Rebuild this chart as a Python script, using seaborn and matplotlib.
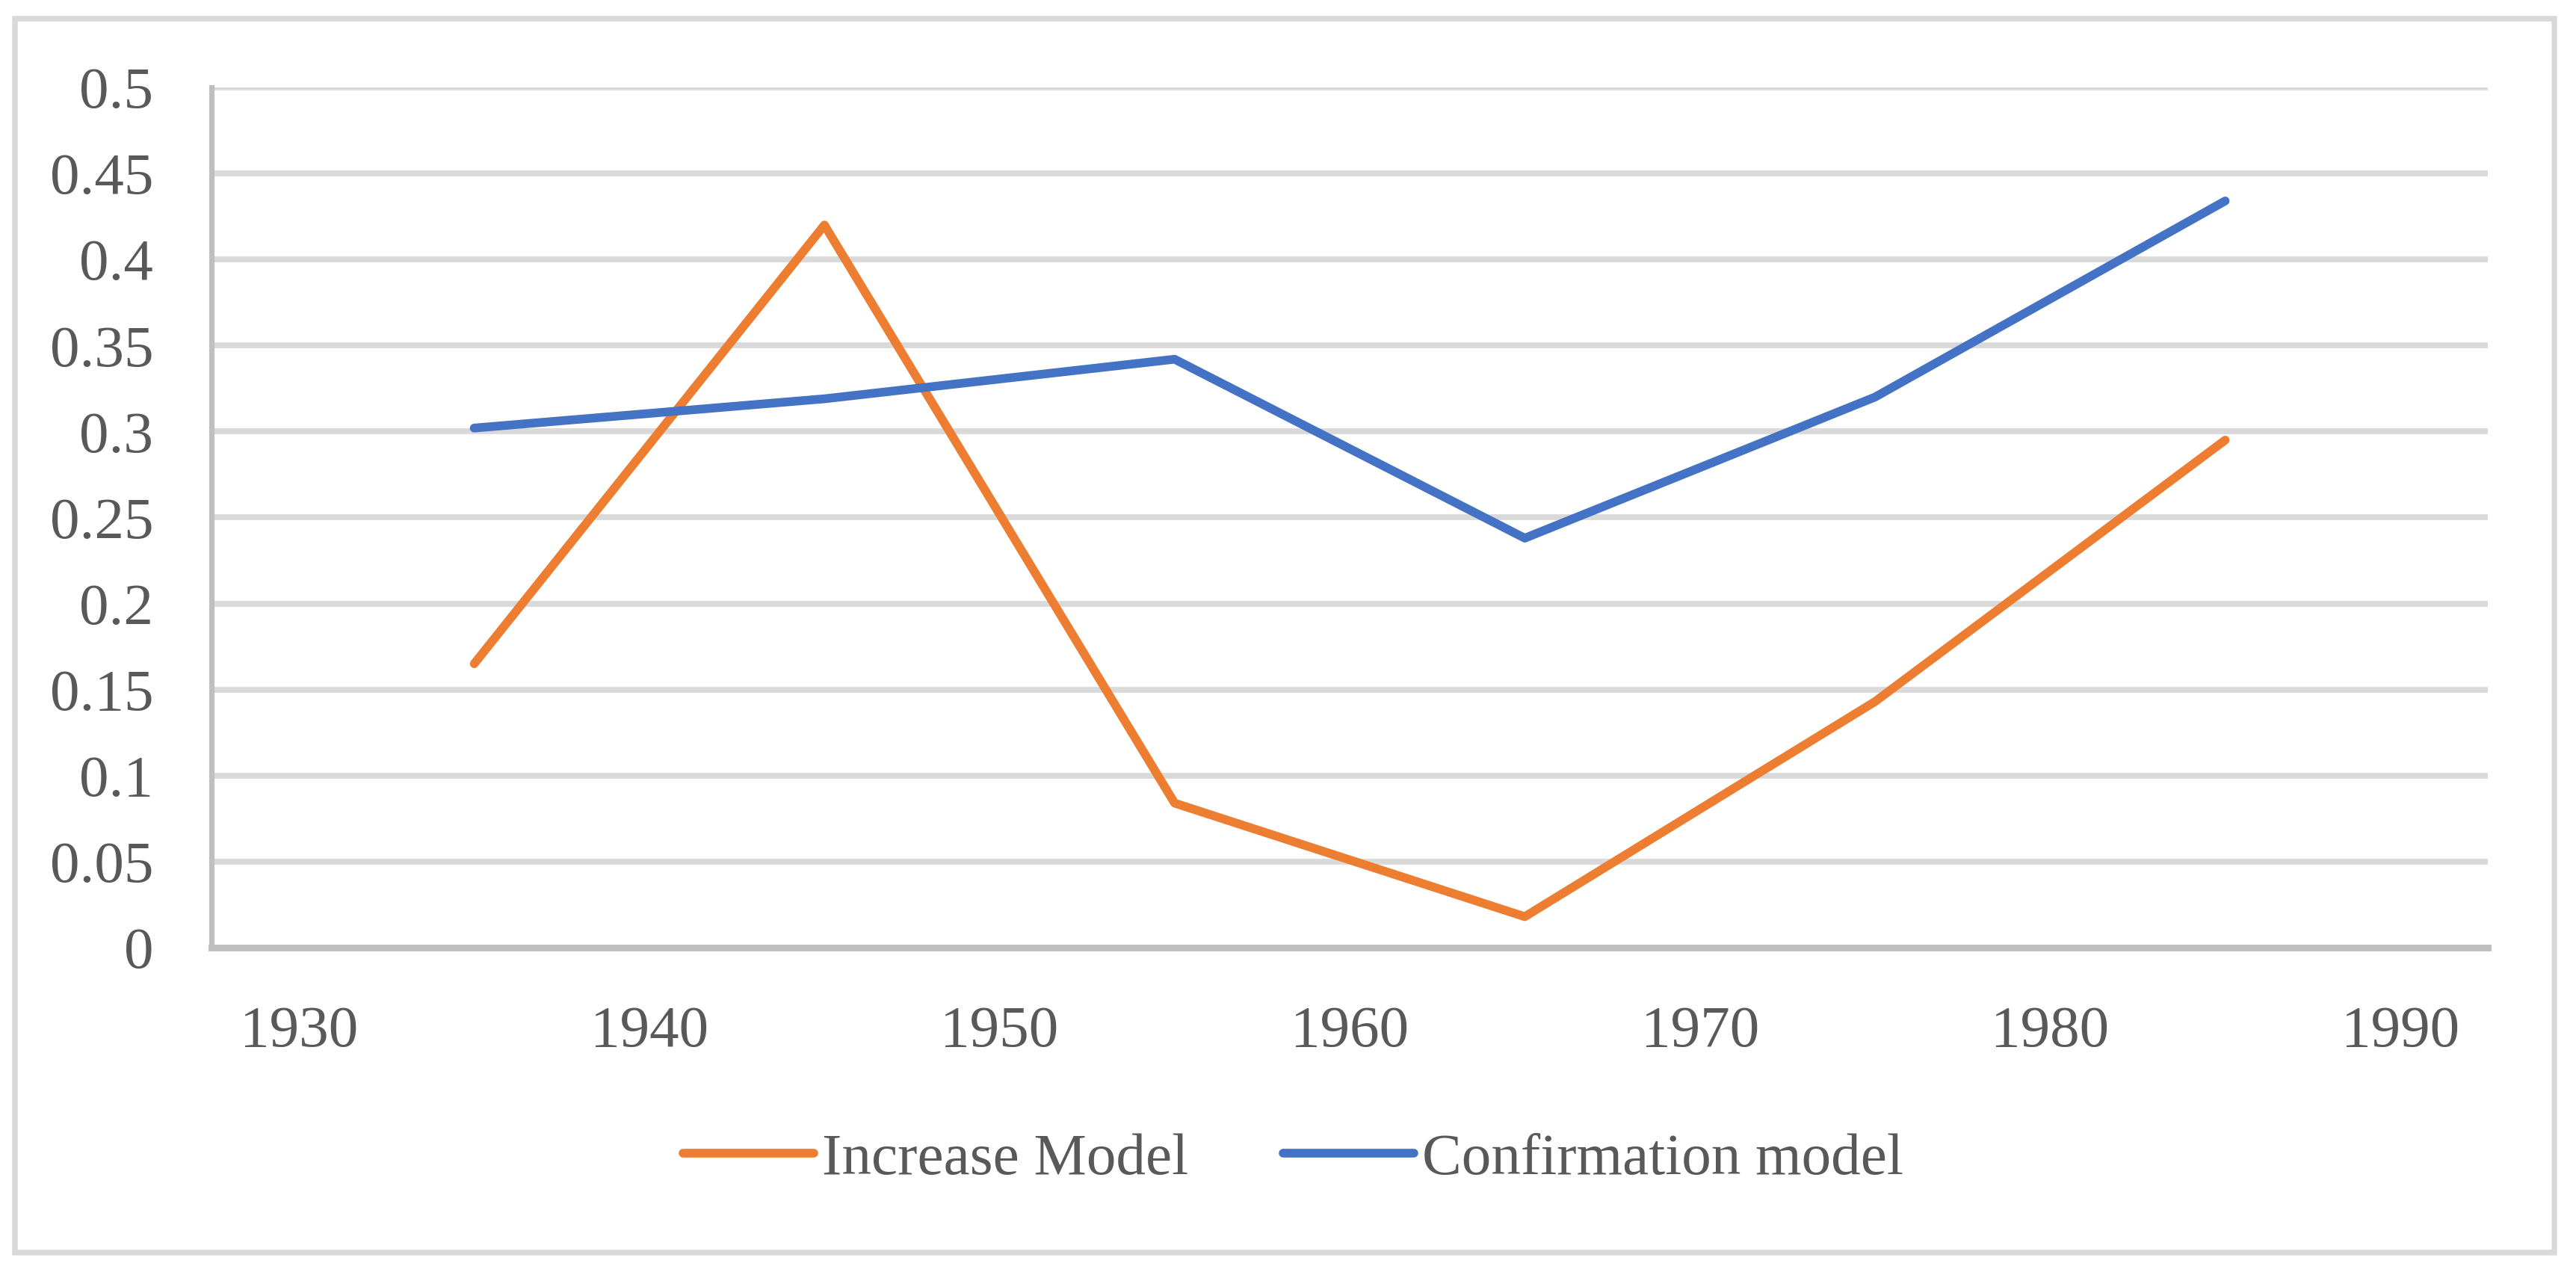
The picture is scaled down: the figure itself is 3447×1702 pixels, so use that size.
import pandas as pd
import seaborn as sns
import matplotlib.pyplot as plt
from matplotlib.patches import Rectangle

years = [1935, 1945, 1955, 1965, 1975, 1985]
increase_model = [0.165, 0.42, 0.084, 0.018, 0.143, 0.295]
confirmation_model = [0.302, 0.319, 0.342, 0.238, 0.320, 0.434]
series_names = ["Increase Model", "Confirmation model"]
y_ticks = [0, 0.05, 0.1, 0.15, 0.2, 0.25, 0.3, 0.35, 0.4, 0.45, 0.5]
y_tick_labels = ["0", "0.05", "0.1", "0.15", "0.2", "0.25", "0.3", "0.35", "0.4", "0.45", "0.5"]
x_ticks = [1930, 1940, 1950, 1960, 1970, 1980, 1990]

df = pd.concat([
    pd.DataFrame({"year": years, "value": increase_model, "model": series_names[0]}),
    pd.DataFrame({"year": years, "value": confirmation_model, "model": series_names[1]}),
], ignore_index=True)

sns.set_style("white")
plt.rcParams['font.family'] = ['Liberation Serif', 'DejaVu Serif']
TEXT = "#595959"

fig = plt.figure(figsize=(17.24, 8.51), dpi=200)
ax = fig.add_axes([0.0821, 0.255, 0.9655 - 0.0821, 0.9313 - 0.255])

# outer chart border
fig.patches.append(Rectangle((0.0058, 0.0153), 0.9855, 0.97, transform=fig.transFigure,
                             fill=False, edgecolor="#D9D9D9", linewidth=2.7))

ax.grid(axis='y', color="#D9D9D9", linewidth=2.8)
ax.set_axisbelow(True)

sns.lineplot(data=df, x="year", y="value", hue="model", hue_order=series_names,
             palette=["#ED7D31", "#4472C4"], linewidth=4.2, ax=ax,
             solid_capstyle='round', solid_joinstyle='round')

ax.set_xlim(1927.5, 1992.5)
ax.set_ylim(0, 0.5)
ax.set_yticks(y_ticks)
ax.set_yticklabels(y_tick_labels)
ax.set_xticks(x_ticks)
ax.set_xticklabels([str(x) for x in x_ticks])
ax.tick_params(axis='both', length=0, labelsize=28.5, colors=TEXT)
ax.tick_params(axis='y', pad=28)
ax.tick_params(axis='x', pad=28)
ax.set_xlabel("")
ax.set_ylabel("")

for side in ["top", "right"]:
    ax.spines[side].set_visible(False)
ax.spines["left"].set_color("#BFBFBF")
ax.spines["left"].set_linewidth(2.6)
ax.spines["bottom"].set_color("#BFBFBF")
ax.spines["bottom"].set_linewidth(3.2)

handles, labels = ax.get_legend_handles_labels()
ax.get_legend().remove()
leg = fig.legend(handles, labels, loc='center', bbox_to_anchor=(0.502, 0.0884), ncol=2,
                 frameon=False, fontsize=28.5, handlelength=2.2, handletextpad=0.15,
                 columnspacing=1.6)
for t in leg.get_texts():
    t.set_color(TEXT)
for h in leg.get_lines():
    h.set_linewidth(4.2)
    h.set_solid_capstyle('round')

fig.savefig("out.png", dpi=200)
